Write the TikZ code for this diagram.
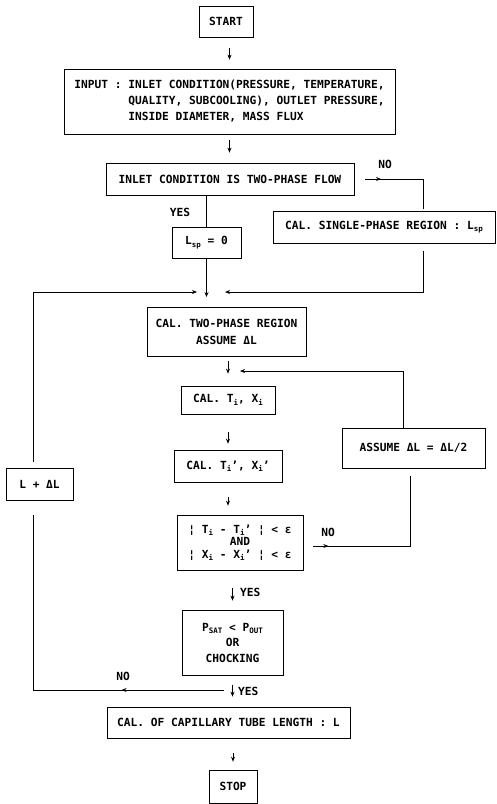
\documentclass[tikz,border=0pt]{standalone}
\usepackage{fontspec}
\setmainfont{DejaVu Sans Mono}
\usetikzlibrary{arrows.meta,decorations.markings}
\tikzset{
  box/.style={draw, line width=0.7pt, inner sep=0pt, align=center},
  wire/.style={line width=0.7pt},
  arr/.style={line width=0.7pt, -{Stealth[length=5pt,width=4pt]}},
  midarrow/.style={postaction={decorate}, decoration={markings,
    mark=at position #1 with {\arrow{Stealth[length=5pt,width=4pt]}}}},
  lbl/.style={inner sep=0pt}
}
\newcommand\lowtxt[1]{\raisebox{-0.4ex}{\fontsize{7.5}{8}\selectfont #1}}

\begin{document}
\begin{tikzpicture}[x=1pt, y=-1pt, font=\fontsize{11.2}{16}\selectfont\bfseries]
	\useasboundingbox (0,0) rectangle (496,804);
	% Start and input data
	\node[box, minimum width=54pt, minimum height=31pt] (start) at (226,21.5) {START};
	\node[box, minimum width=331pt, minimum height=65pt, align=left] (input) at (229.5,101.5)
		{INPUT : INLET CONDITION(PRESSURE, TEMPERATURE,\\\phantom{INPUT : }QUALITY, SUBCOOLING), OUTLET PRESSURE,\\\phantom{INPUT : }INSIDE DIAMETER, MASS FLUX};
	% Inlet check and its two branches
	\node[box, minimum width=248pt, minimum height=32pt] (inlet) at (230,179) {INLET CONDITION IS TWO-PHASE FLOW};
	\node[box, minimum width=222pt, minimum height=32pt] (single) at (384,227) {CAL. SINGLE-PHASE REGION : L\lowtxt{sp}};
	\node[box, minimum width=69pt, minimum height=31pt] (lsp) at (206.5,242.5) {L\lowtxt{sp} = 0};
	% Two-phase region
	\node[box, minimum width=159pt, minimum height=49pt, font=\fontsize{11.2}{17}\selectfont\bfseries] (twoph) at (226.5,331.5)
		{CAL. TWO-PHASE REGION\\ASSUME ΔL};
	\node[box, minimum width=94pt, minimum height=28pt] (calt) at (228,400) {CAL. T\lowtxt{i}, X\lowtxt{i}};
	\node[box, minimum width=108pt, minimum height=32pt] (caltb) at (228,466) {CAL. T\lowtxt{i}', X\lowtxt{i}'};
	\node[box, minimum width=126pt, minimum height=55pt, font=\fontsize{11.2}{12.5}\selectfont\bfseries] (conv) at (240,542.5)
		{¦ T\lowtxt{i} - T\lowtxt{i}' ¦ < ε\\AND\\¦ X\lowtxt{i} - X\lowtxt{i}' ¦ < ε};
	\node[box, minimum width=143pt, minimum height=40pt] (assume) at (413.5,448) {ASSUME ΔL = ΔL/2};
	\node[box, minimum width=67pt, minimum height=32pt] (lplus) at (39.5,484) {L + ΔL};
	\node[box, minimum width=101pt, minimum height=65pt, font=\fontsize{11.2}{15.5}\selectfont\bfseries] (psat) at (232.5,642.5)
		{P\lowtxt{SAT} < P\lowtxt{OUT}\\OR\\CHOCKING};
	% Result and stop
	\node[box, minimum width=243pt, minimum height=31pt] (capl) at (228.5,722.5) {CAL. OF CAPILLARY TUBE LENGTH : L};
	\node[box, minimum width=48pt, minimum height=33pt] (stop) at (233,786.5) {STOP};
	% Branch labels
	\node[lbl] (noa) at (385,164) {NO};
	\node[lbl] (yesa) at (180,212) {YES};
	\node[lbl] (nob) at (328,532) {NO};
	\node[lbl, anchor=west] (yesb) at (240,592) {YES};
	\node[lbl, anchor=west] (yesc) at (238,691) {YES};
	\node[lbl] (noc) at (123,676) {NO};
	% Junction points
	\coordinate (mrg) at (207,297);
	\coordinate (mrgl) at (197,292);
	\coordinate (mrgr) at (225,292);
	\coordinate (lpt) at (240,371);
	\coordinate (brn) at (224,690);
	% Main flow
	\draw[arr, shorten <=11pt, shorten >=9pt] (input.north |- start.south) -- (input.north);
	\draw[arr, shorten <=6pt, shorten >=10pt] (input.south) -- (input.south |- inlet.north);
	\draw[wire] (lsp.north |- inlet.south) -- (lsp.north);
	\draw[arr] (lsp.south) -- (lsp.south |- mrg);
	\draw[wire, midarrow=0.18] ([xshift=11pt]inlet.east) -| ([xshift=39pt,yshift=2pt]single.north);
	\draw[arr] ([xshift=39pt,yshift=-8pt]single.south) |- (mrgr);
	\draw[arr, shorten <=5pt, shorten >=12pt] (calt.north |- twoph.south) -- (calt.north);
	\draw[arr, shorten <=18pt, shorten >=6pt] (calt.south) -- (caltb.north);
	\draw[arr, shorten <=15pt, shorten >=9pt] (caltb.south) -- (caltb.south |- conv.north);
	\draw[arr, shorten <=18pt, shorten >=9pt] (psat.north |- conv.south) -- (psat.north);
	\draw[arr, shorten <=10pt, shorten >=10pt] (psat.south) -- (psat.south |- capl.north);
	\draw[arr, shorten <=15pt, shorten >=8pt] (stop.north |- capl.south) -- (stop.north);
	% Inner loop: halve the step
	\draw[wire, midarrow=0.09] ([xshift=10pt,yshift=-3.5pt]conv.east) -| ([xshift=-3.5pt,yshift=-8pt]assume.south);
	\draw[arr] ([xshift=-10.5pt]assume.north) |- (lpt);
	% Outer loop: next length step
	\draw[wire, midarrow=0.28] (brn) -| ([xshift=-6.5pt,yshift=-15pt]lplus.south);
	\draw[arr] ([xshift=-6.5pt,yshift=6pt]lplus.north) |- (mrgl);
\end{tikzpicture}
\end{document}
